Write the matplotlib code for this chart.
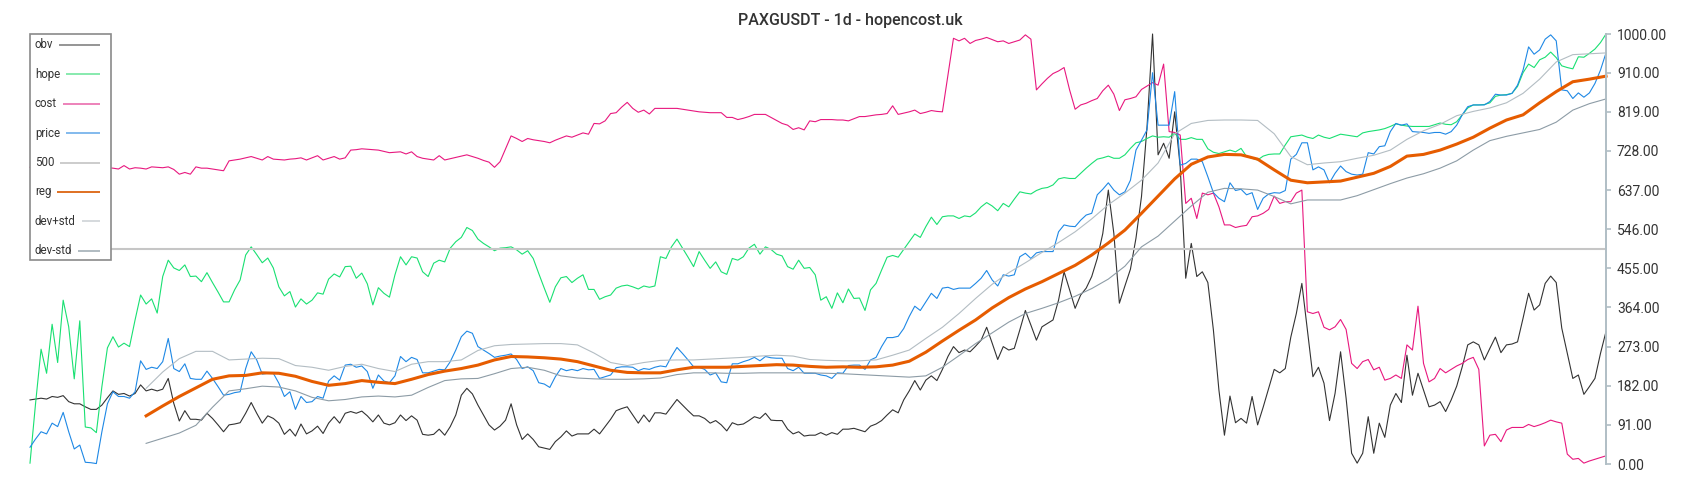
import numpy as np
import matplotlib
matplotlib.use("Agg")
import matplotlib.pyplot as plt
from matplotlib.patches import Rectangle

plt.rcParams['font.family'] = ['Roboto', 'DejaVu Sans']

title = "PAXGUSDT - 1d - hopencost.uk"

obv = [149, 151, 153, 151, 157, 155, 159, 145, 140, 140,
       133, 127, 127, 137, 154, 170, 162, 164, 158, 164,
       184, 170, 174, 170, 174, 199, 141, 100, 124, 104,
       104, 102, 118, 106, 91, 75, 91, 93, 96, 118,
       143, 118, 95, 112, 106, 95, 69, 81, 65, 93,
       70, 77, 88, 71, 95, 110, 95, 118, 122, 118,
       123, 112, 98, 114, 95, 91, 96, 114, 101, 112,
       102, 69, 67, 69, 81, 67, 87, 114, 160, 176,
       163, 137, 114, 91, 79, 88, 102, 140, 91, 57,
       70, 57, 40, 37, 34, 52, 63, 77, 65, 70,
       70, 70, 81, 70, 87, 104, 124, 129, 133, 114,
       95, 114, 98, 119, 119, 116, 133, 150, 137, 124,
       112, 112, 106, 95, 101, 91, 77, 96, 91, 93,
       101, 110, 106, 118, 102, 101, 101, 81, 70, 75,
       65, 67, 67, 73, 67, 73, 69, 81, 81, 83,
       79, 75, 88, 93, 101, 114, 126, 119, 149, 170,
       194, 172, 195, 205, 194, 220, 250, 273, 259, 265,
       261, 274, 288, 318, 281, 243, 273, 265, 269, 312,
       357, 323, 288, 319, 327, 335, 381, 447, 405, 362,
       393, 409, 436, 478, 536, 637, 536, 374, 414, 453,
       525, 622, 784, 1000, 719, 746, 711, 819, 691, 432,
       513, 436, 447, 422, 312, 172, 67, 158, 96, 106,
       95, 157, 91, 132, 176, 220, 212, 222, 295, 350,
       420, 312, 203, 225, 188, 101, 164, 261, 153, 25,
       2, 25, 110, 25, 95, 62, 137, 164, 143, 253,
       160, 211, 172, 133, 137, 145, 122, 149, 181, 226,
       277, 284, 277, 242, 269, 295, 259, 277, 279, 284,
       339, 397, 358, 370, 420, 437, 422, 316, 257, 199,
       207, 162, 180, 199, 257, 308]

hope = [2, 140, 267, 211, 325, 236, 381, 319, 198, 333,
        86, 84, 73, 180, 270, 296, 272, 281, 273, 335,
        393, 372, 384, 351, 436, 474, 456, 450, 463, 436,
        437, 424, 445, 422, 400, 377, 377, 405, 428, 486,
        505, 487, 468, 479, 456, 412, 391, 401, 365, 384,
        372, 381, 398, 395, 430, 442, 435, 459, 460, 432,
        444, 419, 370, 410, 397, 388, 440, 482, 463, 482,
        479, 447, 436, 467, 474, 470, 502, 517, 527, 550,
        543, 523, 513, 505, 496, 502, 503, 505, 498, 488,
        496, 478, 443, 409, 376, 412, 433, 436, 422, 432,
        440, 406, 406, 383, 389, 393, 409, 414, 416, 412,
        407, 414, 411, 414, 482, 478, 505, 523, 502, 481,
        459, 494, 474, 455, 470, 447, 441, 478, 474, 482,
        502, 511, 488, 505, 499, 488, 484, 459, 453, 474,
        455, 457, 440, 381, 389, 362, 398, 375, 407, 385,
        386, 357, 405, 420, 451, 481, 485, 481, 499, 517,
        535, 527, 552, 574, 557, 575, 577, 577, 571, 577,
        575, 584, 598, 608, 600, 589, 606, 598, 616, 633,
        630, 628, 636, 641, 643, 649, 663, 666, 664, 664,
        676, 688, 699, 709, 712, 716, 711, 711, 719, 734,
        747, 750, 757, 763, 760, 761, 760, 769, 755, 755,
        759, 755, 755, 733, 725, 722, 726, 730, 726, 734,
        715, 711, 707, 716, 720, 721, 721, 742, 761, 763,
        765, 760, 757, 765, 760, 757, 762, 767, 765, 763,
        761, 770, 773, 775, 777, 780, 785, 791, 788, 786,
        785, 785, 785, 785, 789, 793, 790, 789, 796, 812,
        828, 835, 835, 836, 840, 855, 858, 859, 862, 878,
        910, 930, 922, 940, 946, 958, 945, 926, 922, 919,
        947, 946, 955, 965, 980, 1000]

cost = [690, 688, 692, 689, 687, 690, 692, 688, 686, 690,
        691, 688, 689, 692, 689, 688, 686, 694, 686, 689,
        688, 686, 691, 690, 689, 691, 685, 674, 678, 674,
        691, 688, 688, 686, 684, 682, 705, 707, 709, 712,
        715, 711, 707, 715, 709, 708, 707, 709, 710, 712,
        707, 712, 717, 707, 711, 715, 709, 712, 730, 731,
        733, 732, 731, 730, 727, 724, 725, 726, 721, 726,
        715, 711, 709, 707, 717, 707, 710, 713, 716, 719,
        715, 711, 706, 702, 690, 703, 733, 763, 757, 750,
        757, 754, 752, 750, 747, 753, 758, 763, 760, 765,
        770, 767, 792, 791, 798, 815, 817, 830, 841, 827,
        818, 823, 814, 827, 827, 827, 827, 827, 825, 823,
        821, 819, 818, 817, 817, 817, 806, 806, 801, 804,
        808, 813, 813, 813, 806, 799, 792, 788, 778, 782,
        777, 798, 796, 801, 801, 801, 800, 800, 798, 803,
        808, 808, 810, 812, 813, 815, 833, 813, 816, 819,
        823, 815, 818, 822, 820, 819, 905, 990, 984, 990,
        978, 985, 988, 992, 987, 982, 984, 978, 982, 986,
        998, 988, 870, 884, 897, 908, 914, 922, 870, 825,
        835, 839, 845, 850, 868, 881, 860, 822, 847, 850,
        854, 871, 879, 887, 881, 930, 773, 771, 765, 606,
        618, 571, 630, 626, 630, 598, 556, 556, 550, 553,
        555, 575, 577, 583, 592, 623, 606, 610, 610, 630,
        637, 354, 350, 354, 318, 312, 319, 336, 313, 234,
        222, 238, 243, 219, 225, 195, 199, 207, 199, 277,
        265, 367, 234, 191, 199, 222, 212, 220, 228, 234,
        243, 248, 220, 42, 67, 69, 52, 79, 85, 85,
        85, 92, 87, 91, 96, 102, 98, 95, 23, 11,
        13, 2, 7, 11, 15, 19]

price = [39, 58, 75, 70, 95, 87, 120, 75, 35, 44,
         4, 3, 1, 75, 140, 168, 157, 157, 153, 168,
         240, 220, 225, 222, 238, 292, 222, 215, 233, 199,
         197, 197, 216, 199, 180, 160, 162, 166, 168, 222,
         261, 242, 209, 211, 211, 188, 157, 168, 127, 157,
         143, 145, 157, 153, 193, 205, 195, 230, 232, 225,
         228, 215, 176, 207, 193, 189, 205, 250, 238, 248,
         243, 212, 212, 216, 220, 219, 238, 265, 296, 309,
         304, 273, 265, 257, 248, 251, 253, 256, 243, 222,
         226, 217, 189, 186, 178, 203, 222, 217, 220, 217,
         222, 219, 220, 199, 203, 207, 224, 226, 226, 225,
         217, 222, 220, 225, 228, 226, 250, 271, 257, 242,
         226, 225, 220, 207, 212, 191, 189, 233, 233, 238,
         242, 248, 240, 250, 247, 246, 246, 222, 217, 225,
         211, 211, 211, 207, 205, 199, 212, 211, 229, 230,
         230, 220, 242, 248, 273, 294, 294, 297, 315, 343,
         367, 357, 377, 397, 385, 409, 411, 406, 409, 409,
         409, 420, 432, 450, 428, 414, 440, 437, 440, 482,
         490, 478, 491, 494, 494, 494, 540, 556, 553, 552,
         567, 579, 583, 626, 639, 654, 637, 626, 633, 660,
         730, 753, 777, 910, 788, 788, 788, 866, 695, 699,
         709, 709, 703, 668, 631, 618, 610, 654, 636, 639,
         626, 631, 592, 618, 628, 631, 630, 636, 709, 720,
         747, 747, 684, 691, 684, 654, 676, 693, 680, 674,
         672, 674, 724, 721, 738, 740, 773, 792, 788, 791,
         773, 772, 771, 769, 771, 771, 767, 773, 788, 812,
         831, 835, 835, 835, 843, 860, 858, 858, 862, 881,
         916, 970, 953, 963, 988, 998, 984, 870, 868, 850,
         863, 853, 863, 885, 916, 956]

level = 500

# reg / bands are sampled every 3rd day starting at day 21
band_start, band_step = 21, 3
reg = [112, 135, 157, 177, 197, 205, 206, 212, 211, 204,
       192, 183, 187, 194, 190, 187, 197, 208, 216, 222,
       230, 242, 250, 249, 247, 244, 238, 228, 218, 213,
       212, 212, 219, 225, 225, 225, 227, 229, 231, 230,
       227, 225, 226, 225, 226, 230, 239, 260, 286, 311,
       335, 363, 387, 407, 424, 443, 462, 486, 514, 544,
       583, 623, 663, 697, 714, 720, 719, 709, 684, 660,
       654, 656, 658, 667, 676, 692, 716, 720, 730, 744,
       760, 781, 800, 812, 840, 866, 889, 895, 902]
dev_plus = [176, 214, 245, 262, 262, 242, 244, 246, 245, 229,
            225, 218, 227, 232, 222, 215, 232, 238, 238, 242,
            264, 275, 278, 279, 280, 280, 277, 258, 236, 229,
            236, 241, 242, 242, 244, 246, 248, 251, 253, 251,
            243, 241, 240, 240, 242, 253, 265, 292, 318, 350,
            385, 418, 445, 468, 492, 515, 540, 570, 603, 630,
            660, 700, 768, 792, 799, 800, 800, 799, 768, 715,
            696, 700, 703, 711, 718, 730, 755, 775, 790, 810,
            820, 828, 840, 862, 895, 935, 952, 954, 956]
dev_minus = [48, 60, 72, 90, 132, 170, 175, 181, 179, 170,
             155, 147, 150, 156, 158, 156, 160, 178, 194, 198,
             199, 210, 222, 225, 218, 205, 200, 198, 197, 197,
             198, 200, 208, 212, 212, 211, 211, 212, 212, 212,
             212, 211, 210, 208, 206, 204, 202, 205, 225, 252,
             280, 305, 330, 350, 362, 375, 390, 408, 430, 460,
             505, 530, 565, 600, 632, 641, 640, 637, 622, 605,
             614, 614, 614, 624, 638, 652, 665, 675, 688, 705,
             730, 752, 762, 770, 778, 795, 823, 838, 849]

yticks = [0, 91, 182, 273, 364, 455, 546, 637, 728, 819, 910, 1000]

days = np.arange(len(obv))
band_days = np.arange(band_start, len(obv), band_step)

fig = plt.figure(figsize=(17, 5), dpi=100)
ax = fig.add_axes([30 / 1700, 36 / 500, 1576 / 1700, 430 / 500])

thin = 0.8
ax.plot(days, obv, color="#333333", lw=thin, clip_on=False)
ax.plot(days, hope, color="#19e072", lw=thin, clip_on=False)
ax.plot(days, cost, color="#e8187f", lw=thin, clip_on=False)
ax.plot(days, price, color="#1e88e5", lw=thin, clip_on=False)
ax.axhline(level, color="#c6c6c6", lw=1.5)
ax.plot(band_days, reg, color="#e65c00", lw=2.2, clip_on=False)
ax.plot(band_days, dev_plus, color="#b3bdc3", lw=thin, clip_on=False)
ax.plot(band_days, dev_minus, color="#8d9ca6", lw=thin, clip_on=False)

ax.set_xlim(0, len(obv) - 1)
ax.set_ylim(0, 1000)
for s in ["left", "top", "bottom"]:
    ax.spines[s].set_visible(False)
ax.spines["right"].set_color("#b0bec5")
ax.spines["right"].set_linewidth(1.4)
ax.yaxis.tick_right()
ax.set_yticks(yticks)
ax.set_yticklabels([f"{v:.2f}" for v in yticks])
ax.tick_params(axis="y", colors="#b0bec5", labelcolor="#333333",
               length=3.6, width=1.2, pad=4.3, labelsize=10)
ax.set_xticks([])

fig.text(0.5, 1 - 20 / 500, title, ha="center", va="center",
         fontsize=11.5, color="#333333", fontweight="medium")

# legend drawn in pixel coordinates on an overlay
lax = fig.add_axes([0, 0, 1, 1], zorder=5)
lax.set_xlim(0, 1700)
lax.set_ylim(500, 0)
lax.axis("off")
lax.add_patch(Rectangle((30, 34), 81, 226, facecolor="white",
                        edgecolor="#8a8a8a", lw=1.2))

labels = ["obv", "hope", "cost", "price", str(level), "reg", "dev+std", "dev-std"]
swatches = ["#8c8c8c", "#7ee8a8", "#ec78b4", "#78b4ec", "#c8c8c8",
            "#dc6410", "#d2d7da", "#aab5bc"]
texts = []
for k, lab in enumerate(labels):
    y = 45 + 29.4 * k
    texts.append((lax.text(35, y, lab, fontsize=8.3, color="#333333",
                           va="center", ha="left"), y))

fig.canvas.draw()
r = fig.canvas.get_renderer()
inv = lax.transData.inverted()
for (t, y), c in zip(texts, swatches):
    bb = t.get_window_extent(renderer=r)
    x1 = inv.transform((bb.x1, bb.y0))[0]
    lax.plot([x1 + 6, 100.5], [y, y], color=c, lw=1.3, solid_capstyle="butt")

fig.savefig("out.png", dpi=100)
